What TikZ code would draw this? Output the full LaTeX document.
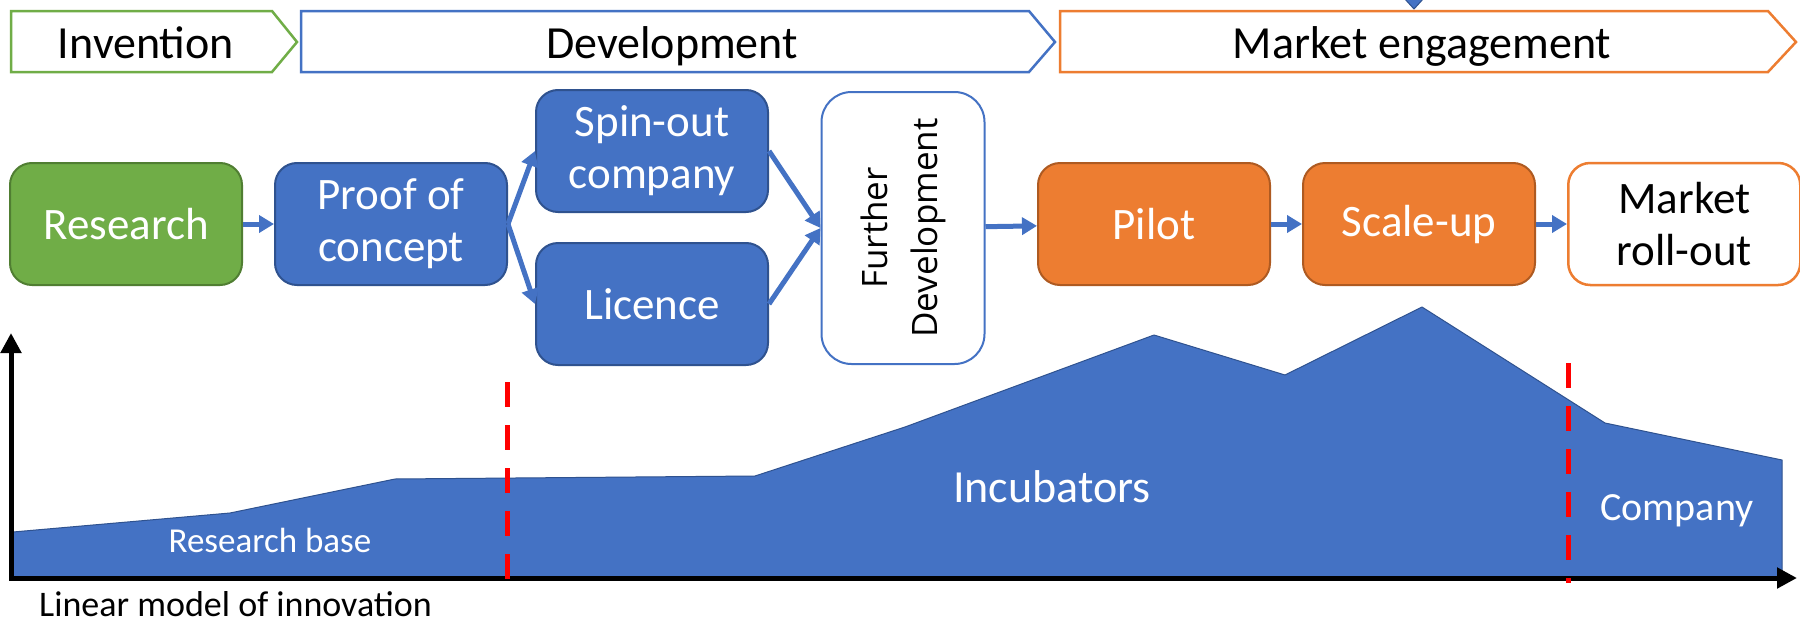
\documentclass[tikz,border=0pt]{standalone}
\usepackage{fontspec}
\setmainfont{Carlito}
\newfontfamily\fdfont{Open Sans}
\usetikzlibrary{arrows.meta, positioning}
\definecolor{invgreen}{RGB}{112,173,71}
\definecolor{invgreendark}{RGB}{80,126,50}
\definecolor{devblue}{RGB}{68,114,196}
\definecolor{devbluedark}{RGB}{47,82,143}
\definecolor{mktorange}{RGB}{237,125,49}
\definecolor{mktorangedark}{RGB}{174,90,33}
\definecolor{cutred}{RGB}{255,0,0}

\tikzset{
  phase/.style={line width=2.5pt, line join=miter},
  phaselabel/.style={anchor=base, font=\fontsize{46}{52}\selectfont, text=black},
  stage/.style={rounded corners=22pt, line width=2pt, minimum width=232pt, minimum height=122pt, align=center, inner sep=0pt, font=\fontsize{45}{52}\selectfont, text=white},
  flow/.style={line width=5pt, devblue, -{Triangle[length=15pt,width=17pt]}},
  axis/.style={line width=5pt, black, line join=miter},
  cut/.style={line width=5pt, cutred, dash pattern=on 25pt off 18pt},
  arealabel/.style={anchor=base, text=white},
}

\begin{document}
\begin{tikzpicture}[x=1pt, y=-1pt]
  \useasboundingbox (0,0) rectangle (1800,624);
  \fill[white] (0,0) rectangle (1800,624);

  % phases along the top
  \filldraw[fill=devblue, draw=devbluedark, line width=1pt] (1404,-2) -- (1424,-2) -- (1414,9) -- cycle;
  \draw[phase, invgreen] (11,11) -- (272,11) -- (297,42) -- (272,72) -- (11,72) -- cycle;
  \node[phaselabel] (invention) at (146,58) {Invention};
  \draw[phase, devblue] (301,11) -- (1029,11) -- (1055,42) -- (1029,72) -- (301,72) -- cycle;
  \node[phaselabel] (development) at (672,58) {Development};
  \draw[phase, mktorange] (1060,11) -- (1768,11) -- (1796,42) -- (1768,72) -- (1060,72) -- cycle;
  \node[phaselabel] (market) at (1422,58) {Market engagement};

  % support over time
  \filldraw[fill=devblue, draw=devbluedark, line width=1pt, line join=round]
    (13,578) -- (13,532) -- (230,513) -- (395,479) -- (755,476) -- (905,427) -- (1154,335)
    -- (1285,375) -- (1422,307) -- (1605,423) -- (1782,460) -- (1782,578) -- cycle;
  \node[arealabel, font=\fontsize{35}{40}\selectfont] (resbase) at (270,552) {Research base};
  \node[arealabel, font=\fontsize{46}{52}\selectfont] (incub) at (1052,502) {Incubators};
  \node[arealabel, font=\fontsize{40}{46}\selectfont] (company) at (1677,520) {Company};

  \coordinate (origin) at (11,578);
  \coordinate (ytop) at (11,333);
  \coordinate (xend) at (1797,578);
  \draw[axis, {Triangle[length=20pt,width=20pt]}-{Triangle[length=20pt,width=20pt]}] (ytop) -- (origin) -- (xend);

  \coordinate (cut1top) at (507,382);
  \coordinate (cut1bot) at (507,580);
  \coordinate (cut2top) at (1568,363);
  \coordinate (cut2bot) at (1568,583);
  \draw[cut] (cut1top) -- (cut1bot);
  \draw[cut] (cut2top) -- (cut2bot);

  \node[anchor=base west, inner sep=1pt, font=\fontsize{36}{42}\selectfont] (caption) at (38,616) {Linear model of innovation};

  % stages
  \node[stage, fill=invgreen, draw=invgreendark] (research) at (126,224) {Research};
  \node[stage, fill=devblue, draw=devbluedark, right=31pt of research] (proof) {Proof of\\concept};
  \node[stage, fill=devblue, draw=devbluedark] (spinout) at (652,151) {Spin-out\\company};
  \node[stage, fill=devblue, draw=devbluedark] (licence) at (652,304) {Licence};
  \node[stage, fill=white, draw=devblue, minimum width=163pt, minimum height=272pt, rounded corners=30pt] (furtherdev) at (903,228) {};
  \node[rotate=90, align=center, text=black, font=\fdfont\fontsize{35}{50}\selectfont] (fdlabel) at (furtherdev.center) {Further\\Development};
  \node[stage, fill=mktorange, draw=mktorangedark] (pilot) at (1154,224) {Pilot};
  \node[stage, fill=mktorange, draw=mktorangedark, right=31pt of pilot] (scaleup) {Scale-up};
  \node[stage, fill=white, draw=mktorange, text=black, line width=2.5pt, right=31pt of scaleup] (rollout) {Market\\roll-out};

  \draw[flow] (research) -- (proof);
  \draw[flow] (proof.east) -- (spinout.west);
  \draw[flow] (proof.east) -- (licence.west);
  \draw[flow] (spinout.east) -- (furtherdev.west);
  \draw[flow] (licence.east) -- (furtherdev.west);
  \draw[flow] (furtherdev) -- (pilot);
  \draw[flow] (pilot) -- (scaleup);
  \draw[flow] (scaleup) -- (rollout);
\end{tikzpicture}
\end{document}
